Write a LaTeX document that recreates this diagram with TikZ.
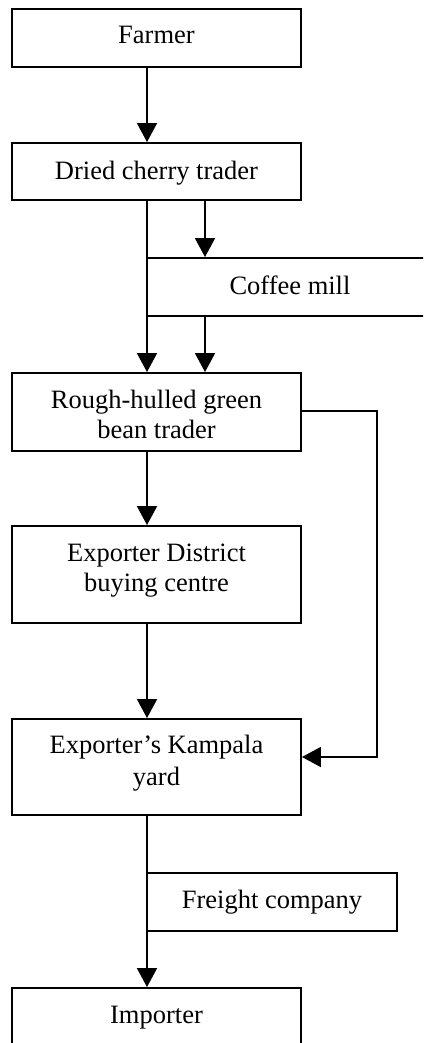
\documentclass[tikz,border=0pt]{standalone}
\usepackage{fontspec}
\setmainfont{Liberation Serif}
\usetikzlibrary{arrows.meta}
\begin{document}
\begin{tikzpicture}[x=1pt,y=-1pt,
  box/.style={draw=black, line width=1.9pt, rectangle, inner sep=0pt, minimum width=289pt},
  lbl/.style={anchor=base, inner sep=0pt, font=\fontsize{26.5}{30.5}\selectfont},
  arr/.style={line width=1.9pt, -{Triangle[width=20pt,length=19pt]}},
  ln/.style={line width=1.9pt}]
\useasboundingbox (0,0) rectangle (423,1043);
\clip (0,0) rectangle (423,1043);
\coordinate (cx) at (147,0);
\coordinate (cx2) at (205,0);
\coordinate (cr) at (377,0);
% boxes
\node[box, minimum height=58pt] (farmer) at (156.5,38) {};
\node[box, minimum height=57pt] (dried) at (156.5,171.5) {};
\node[box, minimum width=300pt, minimum height=58pt] (mill) at (297,287) {};
\node[box, minimum height=78pt] (rough) at (156.5,412) {};
\node[box, minimum height=97pt] (district) at (156.5,574.5) {};
\node[box, minimum height=96pt] (kampala) at (156.5,767) {};
\node[box, minimum width=250pt, minimum height=58pt] (freight) at (272,902) {};
\node[box, minimum height=100pt] (importer) at (156.5,1038) {};
% labels
\node[lbl] (farmerT) at (156.5,44) {Farmer};
\node[lbl] (driedT) at (156.5,179.3) {Dried cherry trader};
\node[lbl] (millT) at (290,294) {Coffee mill};
\node[lbl] (roughT1) at (156.5,408.3) {Rough-hulled green};
\node[lbl] (roughT2) at (156.5,438.3) {bean trader};
\node[lbl] (districtT1) at (156.5,561) {Exporter District};
\node[lbl] (districtT2) at (156.5,591.7) {buying centre};
\node[lbl] (kampalaT1) at (156.5,753.3) {Exporter’s Kampala};
\node[lbl] (kampalaT2) at (156.5,785) {yard};
\node[lbl] (freightT) at (272,908) {Freight company};
\node[lbl] (importerT) at (156.5,1023.3) {Importer};
% connector helper points
\coordinate (re) at ([yshift=1pt]rough.east);
\coordinate (ke) at ([yshift=10pt]kampala.east);
% connectors
\draw[arr] (cx |- farmer.south) -- (cx |- dried.north);
\draw[arr] (cx |- dried.south) -- (cx |- rough.north);
\draw[arr] (cx2 |- dried.south) -- (cx2 |- mill.north);
\draw[arr] (cx2 |- mill.south) -- (cx2 |- rough.north);
\draw[arr] (cx |- rough.south) -- (cx |- district.north);
\draw[arr] (cx |- district.south) -- (cx |- kampala.north);
\draw[arr] (re) -- (cr |- re) -- (cr |- ke) -- (ke);
\draw[arr] (cx |- kampala.south) -- (cx |- importer.north);
\end{tikzpicture}
\end{document}
